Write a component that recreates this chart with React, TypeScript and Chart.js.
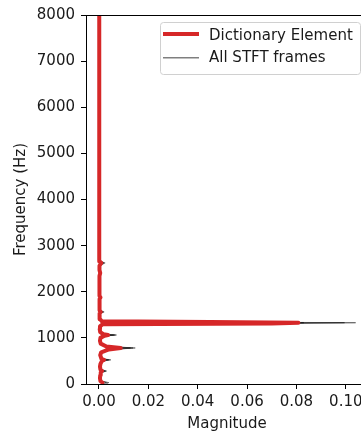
import React, { useEffect, useRef } from 'react';
import { Chart, registerables } from 'chart.js';

Chart.register(...registerables);

const freqHz = [
  0, 31, 62, 125, 188, 250, 281, 312, 375, 438,
  500, 523, 547, 625, 688, 750, 781, 812, 875, 938,
  1000, 1047, 1062, 1078, 1125, 1188, 1250, 1297, 1312, 1328,
  1344, 1359, 1406, 1469, 1531, 1562, 1594, 1656, 1750, 1844,
  1875, 1906, 2000, 2156, 2344, 2406, 2469, 2563, 2625, 2656,
  2750, 3000, 3500, 4000, 4500, 5000, 5500, 6000, 6500, 7000,
  7500, 8000,
];

const dictionaryElement = [
  0.0010, 0.0014, 0.0006, 0.0004, 0.0005, 0.0007, 0.0012, 0.0006, 0.0004, 0.0006,
  0.0012, 0.0020, 0.0010, 0.0005, 0.0009, 0.0040, 0.0088, 0.0030, 0.0007, 0.0004,
  0.0006, 0.0022, 0.0037, 0.0018, 0.0005, 0.0003, 0.0004, 0.0015, 0.0700, 0.0808,
  0.0450, 0.0012, 0.0004, 0.0002, 0.0003, 0.0007, 0.0003, 0.0002, 0.0002, 0.0003,
  0.0006, 0.0003, 0.0002, 0.0002, 0.0002, 0.0005, 0.0002, 0.0002, 0.0009, 0.0004,
  0.0002, 0.0001, 0.0001, 0.0001, 0.0001, 0.0001, 0.0001, 0.0001, 0.0001, 0.0001,
  0.0001, 0.0001,
];

const frameA = [
  0.0030, 0.0040, 0.0010, 0.0004, 0.0006, 0.0012, 0.0031, 0.0010, 0.0004, 0.0008,
  0.0020, 0.0048, 0.0015, 0.0006, 0.0012, 0.0060, 0.0147, 0.0045, 0.0008, 0.0004,
  0.0008, 0.0040, 0.0071, 0.0030, 0.0006, 0.0003, 0.0003, 0.0010, 0.0800, 0.1040,
  0.0500, 0.0010, 0.0004, 0.0002, 0.0006, 0.0021, 0.0005, 0.0002, 0.0002, 0.0003,
  0.0008, 0.0003, 0.0002, 0.0002, 0.0002, 0.0007, 0.0002, 0.0003, 0.0025, 0.0008,
  0.0002, 0.0001, 0.0001, 0.0001, 0.0001, 0.0001, 0.0001, 0.0001, 0.0001, 0.0001,
  0.0001, 0.0001,
];

const frameB = [
  0.0025, 0.0034, 0.0009, 0.0003, 0.0005, 0.0010, 0.0028, 0.0009, 0.0003, 0.0007,
  0.0018, 0.0042, 0.0013, 0.0005, 0.0011, 0.0055, 0.0138, 0.0040, 0.0007, 0.0003,
  0.0007, 0.0036, 0.0066, 0.0027, 0.0005, 0.0002, 0.0003, 0.0009, 0.0780, 0.0995,
  0.0480, 0.0009, 0.0003, 0.0002, 0.0005, 0.0018, 0.0004, 0.0002, 0.0002, 0.0003,
  0.0007, 0.0003, 0.0002, 0.0002, 0.0002, 0.0006, 0.0002, 0.0002, 0.0021, 0.0007,
  0.0002, 0.0001, 0.0001, 0.0001, 0.0001, 0.0001, 0.0001, 0.0001, 0.0001, 0.0001,
  0.0001, 0.0001,
];

const frameC = [
  0.0020, 0.0028, 0.0008, 0.0003, 0.0004, 0.0009, 0.0024, 0.0008, 0.0003, 0.0006,
  0.0016, 0.0038, 0.0012, 0.0004, 0.0010, 0.0050, 0.0128, 0.0036, 0.0006, 0.0003,
  0.0006, 0.0032, 0.0060, 0.0024, 0.0004, 0.0002, 0.0002, 0.0008, 0.0680, 0.0830,
  0.0420, 0.0008, 0.0003, 0.0001, 0.0004, 0.0015, 0.0004, 0.0001, 0.0001, 0.0002,
  0.0006, 0.0002, 0.0001, 0.0001, 0.0001, 0.0005, 0.0001, 0.0002, 0.0018, 0.0006,
  0.0001, 0.0001, 0.0001, 0.0001, 0.0001, 0.0001, 0.0001, 0.0001, 0.0001, 0.0001,
  0.0001, 0.0001,
];

const xTickValues = [0, 0.02, 0.04, 0.06, 0.08, 0.1];
const yTickValues = [0, 1000, 2000, 3000, 4000, 5000, 6000, 7000, 8000];
const legendLabels = ['Dictionary Element', 'All STFT frames'];
const xTitle = 'Magnitude';
const yTitle = 'Frequency (Hz)';

const FONT = 'DejaVu Sans';
const FS = 15;
const TEXT = '#1a1a1a';
const RED = '#d62728';
const FRAME_COLOR = 'rgba(0,0,0,0.45)';

const toPoints = (vals: number[]) => vals.map((v, i) => ({ x: v, y: freqHz[i] }));

const framePlugin = {
  id: 'frameAndLegend',
  afterDraw(chart: any) {
    const { ctx, chartArea } = chart;
    const { left, top, right, bottom } = chartArea;
    ctx.save();
    ctx.strokeStyle = '#000';
    ctx.lineWidth = 1;
    ctx.beginPath();
    ctx.moveTo(left, top + 0.5);
    ctx.lineTo(right, top + 0.5);
    ctx.moveTo(right - 0.5, top);
    ctx.lineTo(right - 0.5, bottom);
    ctx.stroke();

    // legend (upper right, matplotlib style)
    const bx = left + 74.5;
    const by = top + 7.5;
    const bw = 200;
    const bh = 52;
    const r = 3;
    ctx.beginPath();
    ctx.moveTo(bx + r, by);
    ctx.lineTo(bx + bw - r, by);
    ctx.arcTo(bx + bw, by, bx + bw, by + r, r);
    ctx.lineTo(bx + bw, by + bh - r);
    ctx.arcTo(bx + bw, by + bh, bx + bw - r, by + bh, r);
    ctx.lineTo(bx + r, by + bh);
    ctx.arcTo(bx, by + bh, bx, by + bh - r, r);
    ctx.lineTo(bx, by + r);
    ctx.arcTo(bx, by, bx + r, by, r);
    ctx.closePath();
    ctx.fillStyle = 'rgba(255,255,255,0.8)';
    ctx.fill();
    ctx.strokeStyle = '#d0d0d0';
    ctx.lineWidth = 1;
    ctx.stroke();

    const l1 = top + 19;
    const l2 = top + 42.7;
    ctx.lineCap = 'butt';
    ctx.strokeStyle = RED;
    ctx.lineWidth = 4;
    ctx.beginPath();
    ctx.moveTo(left + 77, l1);
    ctx.lineTo(left + 113, l1);
    ctx.stroke();
    ctx.strokeStyle = 'rgba(0,0,0,0.5)';
    ctx.lineWidth = 1.4;
    ctx.beginPath();
    ctx.moveTo(left + 77, l2);
    ctx.lineTo(left + 113, l2);
    ctx.stroke();

    ctx.fillStyle = TEXT;
    ctx.font = `${FS}px "${FONT}"`;
    ctx.textBaseline = 'middle';
    ctx.textAlign = 'left';
    ctx.fillText(legendLabels[0], left + 123, top + 20.8);
    ctx.fillText(legendLabels[1], left + 123, top + 43.1);
    ctx.restore();
  },
};

export default function App() {
  const ref = useRef<HTMLCanvasElement | null>(null);

  useEffect(() => {
    if (!ref.current) return;
    const frameDs = (vals: number[]) => ({
      label: legendLabels[1],
      data: toPoints(vals),
      borderColor: FRAME_COLOR,
      backgroundColor: FRAME_COLOR,
      borderWidth: 1,
      showLine: true,
      pointRadius: 0,
      tension: 0,
      order: 1,
    });
    const chart = new Chart(ref.current, {
      type: 'scatter',
      data: {
        datasets: [
          {
            label: legendLabels[0],
            data: toPoints(dictionaryElement),
            borderColor: RED,
            backgroundColor: RED,
            borderWidth: 4,
            borderJoinStyle: 'round',
            showLine: true,
            pointRadius: 0,
            tension: 0,
            order: 0,
          },
          frameDs(frameA),
          frameDs(frameB),
          frameDs(frameC),
        ],
      },
      options: {
        responsive: false,
        animation: false,
        devicePixelRatio: 1,
        layout: { padding: { left: 0, top: 15, right: 8, bottom: 0 } },
        plugins: {
          legend: { display: false },
          tooltip: { enabled: false },
        },
        font: { family: FONT, size: FS },
        scales: {
          x: {
            type: 'linear',
            min: -0.00526,
            max: 0.109,
            afterBuildTicks: (scale: any) => {
              scale.ticks = xTickValues.map((v) => ({ value: v }));
            },
            afterFit: (scale: any) => {
              scale.height = 47;
              scale.paddingLeft = 0;
              scale.paddingRight = 0;
            },
            ticks: {
              color: TEXT,
              font: { family: FONT, size: FS },
              padding: 4,
              maxRotation: 0,
              autoSkip: false,
              callback: (v: any) => Number(v).toFixed(2),
            },
            grid: {
              drawOnChartArea: false,
              drawTicks: true,
              tickLength: 5,
              color: '#000',
            },
            border: { display: true, color: '#000', width: 1 },
            title: {
              display: true,
              text: xTitle,
              color: TEXT,
              font: { family: FONT, size: FS },
              padding: { top: 0, bottom: -2 },
            },
          },
          y: {
            type: 'linear',
            min: 0,
            max: 8000,
            afterBuildTicks: (scale: any) => {
              scale.ticks = yTickValues.map((v) => ({ value: v }));
            },
            afterFit: (scale: any) => {
              scale.width = 86;
              scale.paddingTop = 0;
              scale.paddingBottom = 0;
            },
            ticks: {
              color: TEXT,
              font: { family: FONT, size: FS },
              padding: 6,
              autoSkip: false,
              callback: (v: any) => String(v),
            },
            grid: {
              drawOnChartArea: false,
              drawTicks: true,
              tickLength: 5,
              color: '#000',
            },
            border: { display: true, color: '#000', width: 1 },
            title: {
              display: true,
              text: yTitle,
              color: TEXT,
              font: { family: FONT, size: FS },
              padding: { top: 12.5, bottom: 0 },
            },
          },
        },
      },
      plugins: [framePlugin],
    } as any);
    return () => chart.destroy();
  }, []);

  return (
    <div
      style={{
        position: 'absolute',
        left: 0,
        top: 0,
        width: 361,
        height: 431,
        overflow: 'hidden',
        background: '#fff',
      }}
    >
      <canvas ref={ref} width={376} height={431} style={{ display: 'block' }} />
    </div>
  );
}
